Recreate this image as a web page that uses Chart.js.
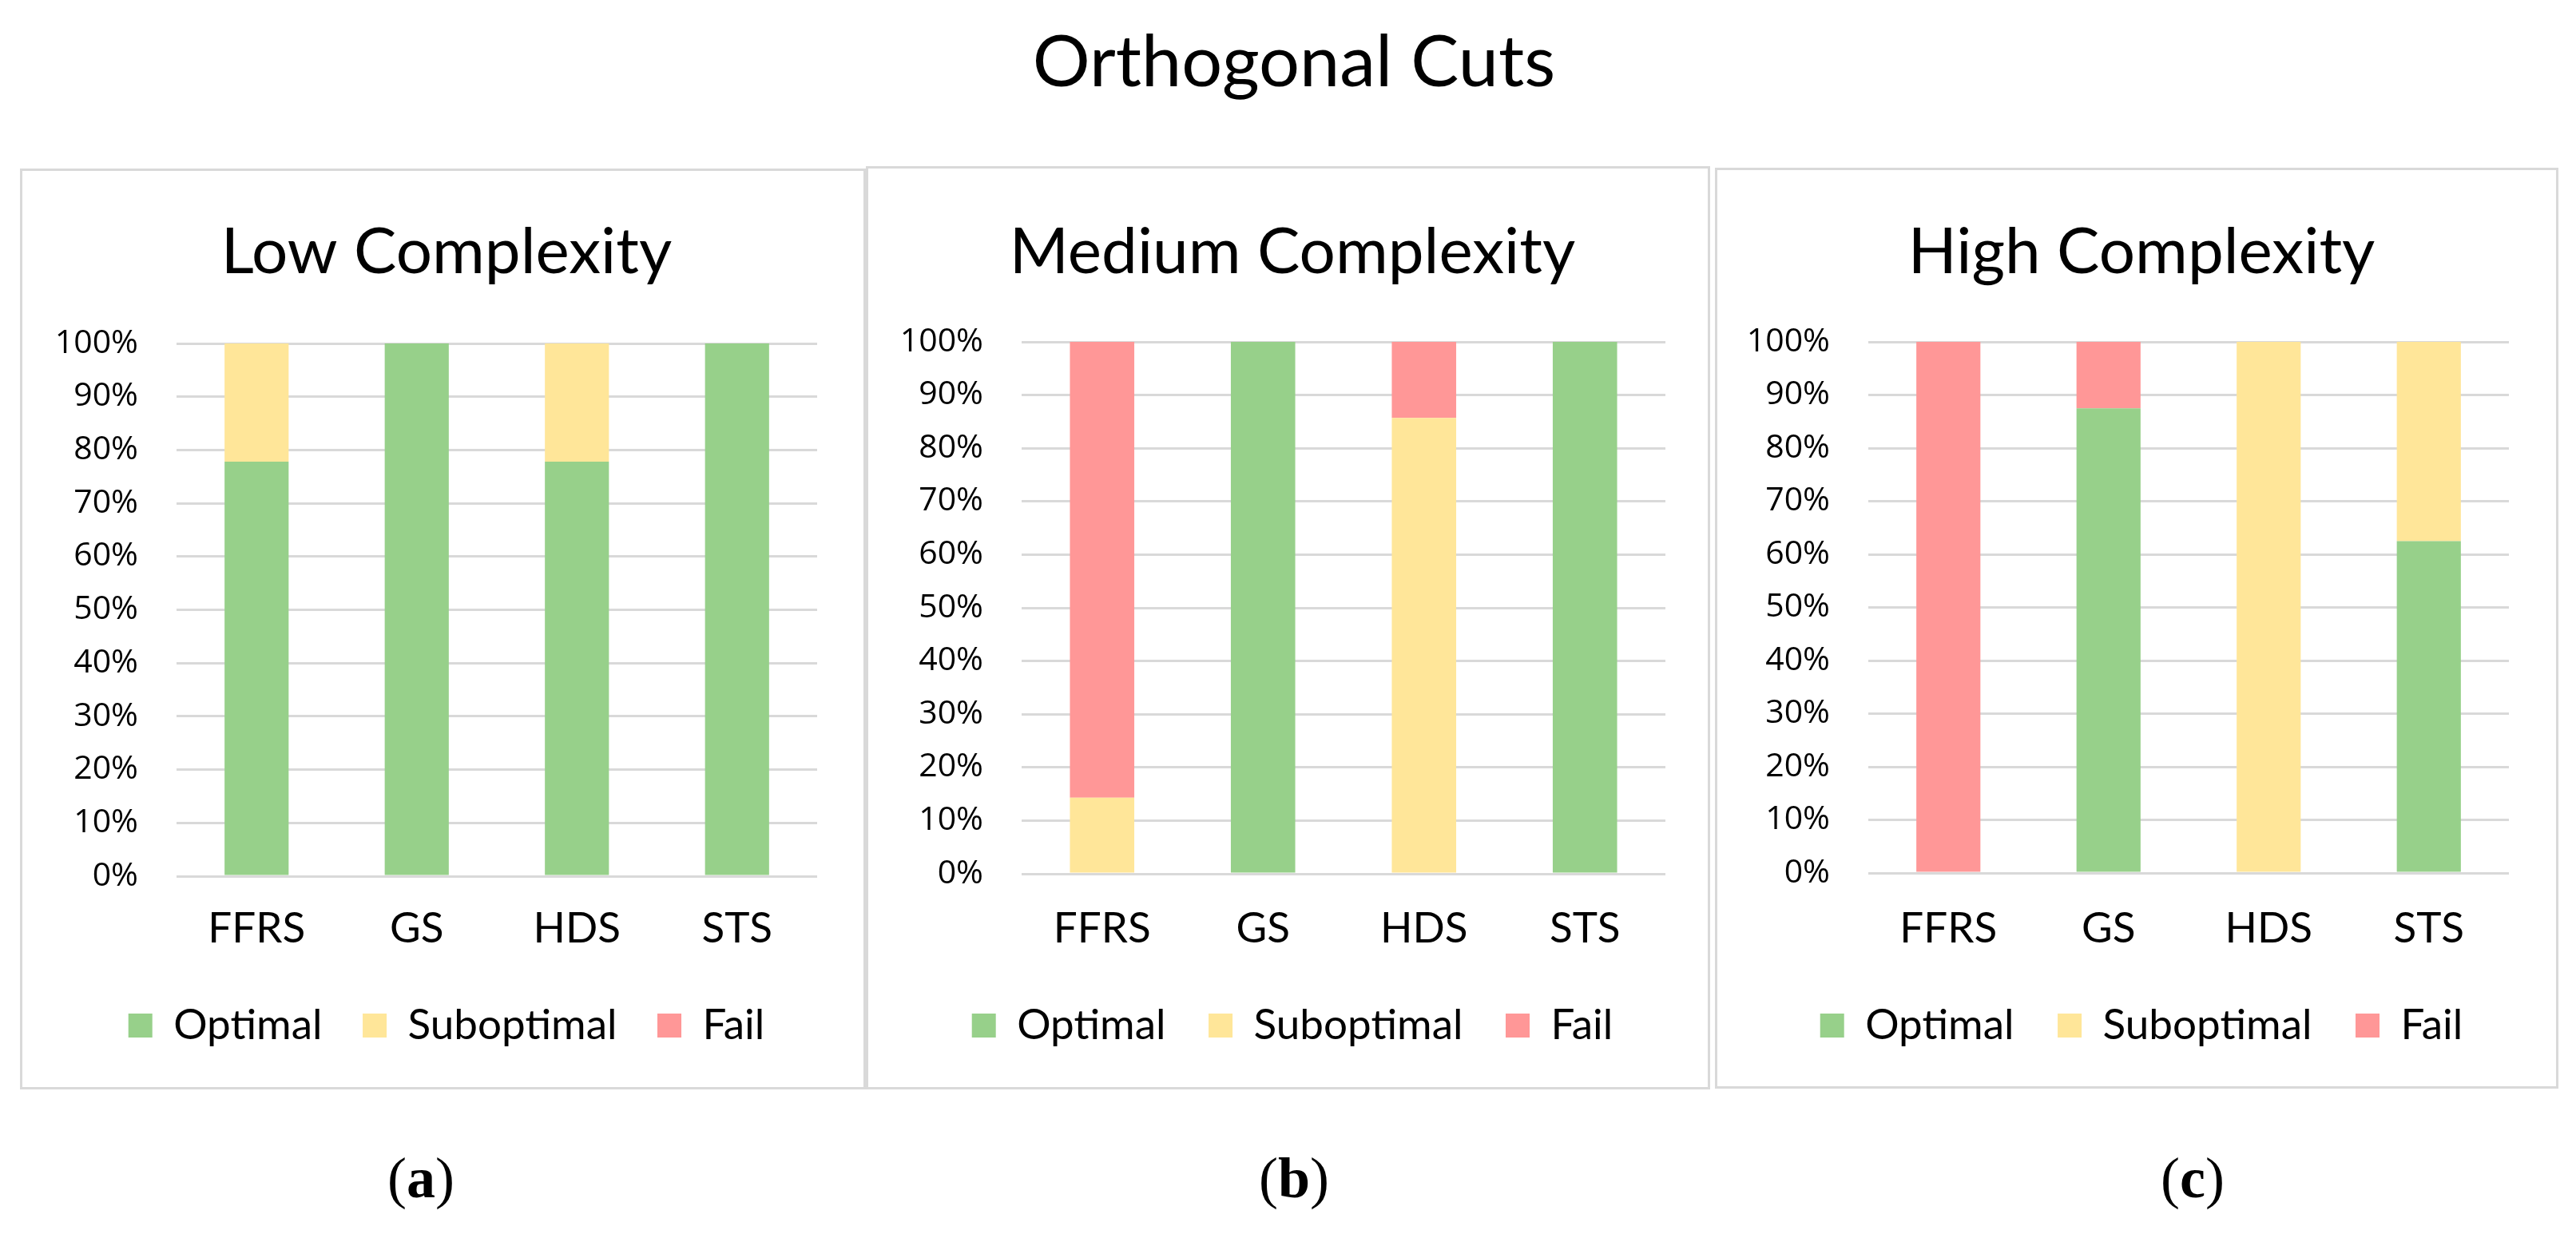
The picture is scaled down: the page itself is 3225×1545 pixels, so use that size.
<!DOCTYPE html>
<html>
<head>
<meta charset="utf-8">
<script src="https://cdn.jsdelivr.net/npm/chart.js@4.4.0/dist/chart.umd.min.js"></script>
<style>
  body { margin: 0; background: #fff; }
  #fig { position: relative; width: 3225px; height: 1545px; overflow: hidden; background: #fff; }
  .panel { position: absolute; box-sizing: border-box; border: 3px solid #d9d9d9; background: #fff; }
  .panel canvas { display: block; }
  #mainTitle {
    position: absolute; left: 0; top: 28px; width: 3240px;
    text-align: center; font-family: Lato, sans-serif; font-size: 90px; line-height: 90px; color: #000;
  }
  .cap {
    position: absolute; top: 1439px; width: 300px; margin-left: -150px;
    text-align: center; font-family: "Liberation Serif", "Times New Roman", serif;
    font-size: 72px; line-height: 72px; color: #000;
  }
</style>
</head>
<body>
<div id="fig">
  <div id="mainTitle">Orthogonal Cuts</div>
  <div class="panel" id="pa"><canvas id="ca"></canvas></div>
  <div class="panel" id="pb"><canvas id="cb"></canvas></div>
  <div class="panel" id="pc"><canvas id="cc"></canvas></div>
  <div class="cap" style="left:527px">(<b>a</b>)</div>
  <div class="cap" style="left:1620px">(<b>b</b>)</div>
  <div class="cap" style="left:2745px">(<b>c</b>)</div>
</div>
<script>
// data (percent of runs)
const categories = ["FFRS", "GS", "HDS", "STS"];
const seriesNames = ["Optimal", "Suboptimal", "Fail"];
const panelTitles = ["Low Complexity", "Medium Complexity", "High Complexity"];

const lowOptimal = [77.8, 100, 77.8, 100];
const lowSuboptimal = [22.2, 0, 22.2, 0];
const lowFail = [0, 0, 0, 0];

const mediumOptimal = [0, 100, 0, 100];
const mediumSuboptimal = [14.3, 0, 85.7, 0];
const mediumFail = [85.7, 0, 14.3, 0];

const highOptimal = [0, 87.5, 0, 62.5];
const highSuboptimal = [0, 0, 100, 37.5];
const highFail = [100, 12.5, 0, 0];

const yMin = 0, yMax = 100, yStep = 10;

// look
const colors = ["#97D08A", "#FFE699", "#FF9797"];
const TITLE_SIZE = 80, CAT_SIZE = 53, LEG_SIZE = 53, TICK_SIZE = 41;
const TITLE_Y = 316, CAT_Y = 1163, LEG_Y = 1284;

// panel boxes and plot areas, page pixels
const panels = [
  { el: "pa", cv: "ca", x: 25, y: 211, w: 1059, h: 1153, plot: { l: 221, r: 1023, t: 430, b: 1097 } },
  { el: "pb", cv: "cb", x: 1084, y: 208, w: 1057, h: 1156, plot: { l: 1279, r: 2085, t: 428, b: 1094 } },
  { el: "pc", cv: "cc", x: 2147, y: 210, w: 1056, h: 1153, plot: { l: 2339, r: 3141, t: 428, b: 1093 } }
];

const seriesByPanel = [
  [lowOptimal, lowSuboptimal, lowFail],
  [mediumOptimal, mediumSuboptimal, mediumFail],
  [highOptimal, highSuboptimal, highFail]
];

Chart.defaults.font.family = "Lato";
Chart.defaults.color = "#000";

// title and legend are centred on the panel, not on the plot area
const centerBoxes = {
  id: "centerBoxes",
  afterLayout(chart, args, opts) {
    [chart.titleBlock, chart.legend].forEach(b => {
      if (!b) return;
      const w = b.right - b.left;
      b.left = opts.cx - w / 2;
      b.right = b.left + w;
    });
  }
};

function makeChart(p, title, series) {

  const box = document.getElementById(p.el);
  box.style.left = p.x + "px";
  box.style.top = p.y + "px";
  box.style.width = p.w + "px";
  box.style.height = p.h + "px";

  const cw = p.w - 6, ch = p.h - 6;
  const ox = p.x + 3, oy = p.y + 3;
  const L = p.plot.l - ox, R = p.plot.r - ox, T = p.plot.t - oy, B = p.plot.b - oy;

  const canvas = document.getElementById(p.cv);
  canvas.width = cw;
  canvas.height = ch;

  const cx = p.x + 534 - ox;
  const padRight = cw - R;

  const titleLH = TITLE_SIZE * 1.2;
  const tPadTop = TITLE_Y - oy - titleLH / 2;
  const tPadBot = T - tPadTop - titleLH;

  const xH = 110;
  const xPad = (CAT_Y - p.plot.b) - CAT_SIZE * 1.2 / 2;
  const legPad = (LEG_Y - oy) - B - xH - LEG_SIZE / 2;
  const legH = LEG_SIZE + legPad + 10;
  const padBottom = ch - B - xH - legH;

  return new Chart(canvas, {
    type: "bar",
    data: {
      labels: categories,
      datasets: seriesNames.map((name, i) => ({
        label: name,
        data: series[i],
        backgroundColor: colors[i],
        borderWidth: 0,
        categoryPercentage: 1,
        barPercentage: 0.4
      }))
    },
    plugins: [centerBoxes],
    options: {
      responsive: false,
      animation: false,
      layout: { padding: { left: 0, right: padRight, top: 0, bottom: padBottom } },
      scales: {
        x: {
          stacked: true,
          grid: { display: false, drawTicks: false },
          border: { display: false },
          ticks: { font: { size: CAT_SIZE }, padding: xPad, color: "#000" },
          afterFit: s => { s.height = xH; }
        },
        y: {
          stacked: true,
          min: yMin,
          max: yMax,
          grid: { color: "#d9d9d9", lineWidth: 3, drawTicks: false },
          border: { display: false },
          ticks: {
            stepSize: yStep,
            padding: 48,
            color: "#000",
            font: { family: "Open Sans", size: TICK_SIZE },
            callback: v => v + "%"
          },
          afterFit: s => { s.width = L; }
        }
      },
      plugins: {
        centerBoxes: { cx: cx },
        tooltip: { enabled: false },
        title: {
          display: true,
          text: title,
          color: "#000",
          font: { size: TITLE_SIZE, weight: "normal", lineHeight: 1.2 },
          padding: { top: tPadTop, bottom: tPadBot }
        },
        legend: {
          position: "bottom",
          labels: {
            boxWidth: 30,
            boxHeight: 30,
            padding: legPad,
            color: "#000",
            font: { size: LEG_SIZE }
          }
        }
      }
    }
  });
}

panels.forEach((p, i) => makeChart(p, panelTitles[i], seriesByPanel[i]));
</script>
</body>
</html>
